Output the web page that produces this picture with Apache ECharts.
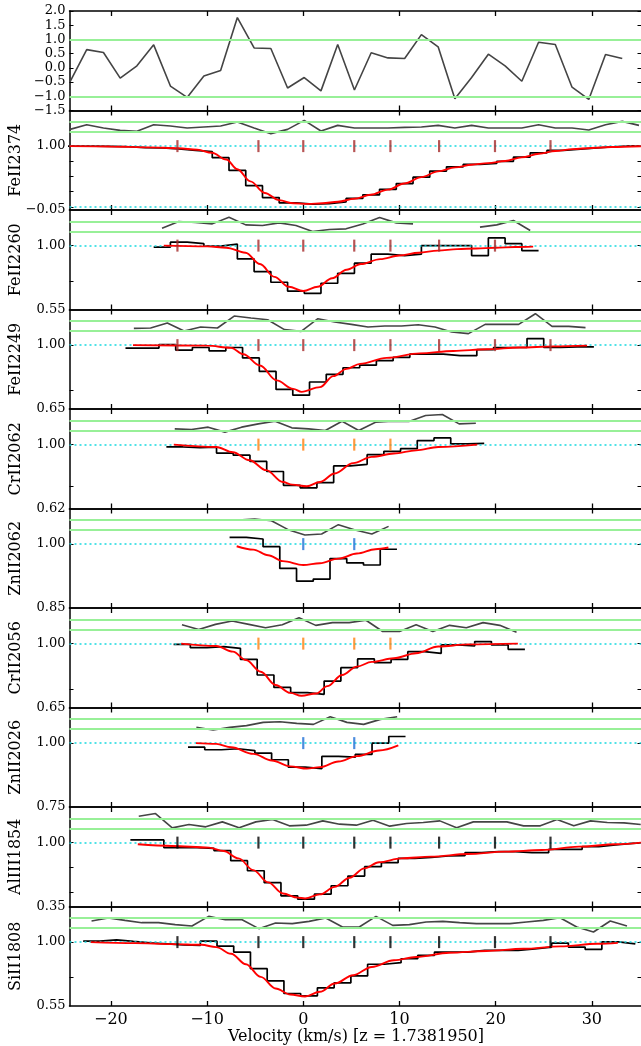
<!DOCTYPE html>
<html><head><meta charset="utf-8">
<script src="https://cdn.jsdelivr.net/npm/echarts@6/dist/echarts.min.js"></script>
<style>html,body{margin:0;padding:0;background:#fff;}#c{width:641px;height:1046px;}</style>
</head><body><div id="c"></div>
<script>
// ---------------- data ----------------
const lineNames = ['FeII2374','FeII2260','FeII2249','CrII2062','ZnII2062','CrII2056','ZnII2026','AlIII1854','SiII1808'];
const lineYmin = [-0.05,0.55,0.65,0.62,0.85,0.65,0.75,0.35,0.55];
const xTicks = [-20,-10,0,10,20,30];
const residTicks = [-1.5,-1.0,-0.5,0.0,0.5,1.0,1.5,2.0];
const fluxMinorTicks = [0,0.25,0.5,0.75,1.0];
const componentVel = [-13.08,-4.66,0,5.3,9.06,14.12,19.93,25.7];

// top panel residuals
const topVel = [-24.25,-22.51,-20.77,-19.03,-17.29,-15.55,-13.81,-12.07,-10.33,-8.59,-6.85,-5.11,-3.37,-1.63,0.10,1.84,3.58,5.32,7.06,8.80,10.54,12.28,14.02,15.76,17.50,19.24,20.98,22.72,24.46,26.20,27.94,29.68,31.42,33.16];
const topResid = [-0.49,0.64,0.54,-0.36,0.07,0.81,-0.64,-1.04,-0.29,-0.09,1.77,0.70,0.68,-0.71,-0.34,-0.81,0.82,-0.78,0.53,0.35,0.33,1.17,0.74,-1.09,-0.34,0.48,0.07,-0.47,0.90,0.82,-0.68,-1.11,0.47,0.33];

// FeII 2374
const fe2374Vel = [-24.25,-22.51,-20.77,-19.03,-17.29,-15.55,-13.81,-12.07,-10.33,-8.59,-6.85,-5.11,-3.37,-1.63,0.10,1.84,3.58,5.32,7.06,8.80,10.54,12.28,14.02,15.76,17.50,19.24,20.98,22.72,24.46,26.20,27.94,29.68,31.42,33.16,34.90];
const fe2374Flux = [1.00,1.00,0.995,0.99,0.975,0.97,0.955,0.93,0.91,0.81,0.60,0.35,0.155,0.066,0.045,0.056,0.082,0.14,0.20,0.29,0.385,0.49,0.59,0.66,0.70,0.715,0.75,0.82,0.89,0.93,0.95,0.97,0.99,1.005,1.00];
const fe2374Resid = [-0.47,0.47,-0.2,-0.67,-0.87,0.47,0.2,-0.2,0,0.2,1.0,-0.2,-1.33,-0.47,1.33,-0.8,0.33,-0.2,-0.2,-0.2,-0.07,0,0.33,-0.2,0.33,-0.2,-0.2,-0.2,0.47,-0.2,-0.2,-0.6,0.47,1.13,0.33];
const fe2374ModelVel = [-24.3,-20,-16,-13,-11,-9.5,-8,-6.85,-5.5,-4,-2.5,-1,0.5,2,3.6,5.3,7,8.8,10.5,12.3,14,15.8,17.5,19.2,21,22.7,24.5,26.2,28,30,32,35.1];
const fe2374Model = [1.0,0.995,0.98,0.965,0.94,0.89,0.78,0.62,0.42,0.23,0.11,0.06,0.05,0.06,0.085,0.135,0.2,0.285,0.385,0.49,0.585,0.65,0.695,0.72,0.755,0.815,0.875,0.92,0.95,0.97,0.985,0.998];

// FeII 2260
const fe2260Vel = [-14.68,-12.94,-11.20,-9.46,-7.72,-5.98,-4.24,-2.50,-0.76,0.97,2.71,4.45,6.19,7.93,9.67,11.41,13.15,14.89,16.63,18.37,20.11,21.85,23.59];
const fe2260Flux = [0.99,1.024,1.014,0.996,1.01,0.906,0.817,0.742,0.68,0.664,0.735,0.805,0.876,0.94,0.93,0.94,1.0,1.0,1.0,0.93,1.054,1.014,0.965];
const fe2260Resid = [-0.33,1.0,0.8,0.53,1.87,0.33,0.2,0.73,0.2,-1.0,-0.6,-0.47,0.5,1.8,0.73,0.53,null,null,null,-0.13,0.33,1.2,-0.8];
const fe2260ModelVel = [-14.5,-10,-8,-6,-4.5,-3,-1.5,0,1.5,3,4.5,6,8,10,12,14,16,18,20,22,23.9];
const fe2260Model = [1.0,0.995,0.985,0.95,0.87,0.78,0.71,0.68,0.71,0.77,0.83,0.87,0.905,0.93,0.95,0.965,0.975,0.98,0.985,0.99,0.993];

// FeII 2249
const fe2249Vel = [-17.61,-15.87,-14.13,-12.39,-10.66,-8.92,-7.18,-5.44,-3.70,-1.96,-0.22,1.52,3.26,5.00,6.73,8.47,10.21,11.95,13.69,15.43,17.17,18.91,20.65,22.39,24.13,25.86,27.60,29.34];
const fe2249Flux = [0.984,0.984,1.003,0.973,0.987,0.969,0.987,0.93,0.856,0.757,0.726,0.798,0.84,0.876,0.89,0.915,0.933,0.951,0.951,0.942,0.942,0.975,0.987,0.987,1.036,0.987,0.99,0.99];
const fe2249Resid = [-0.47,-0.4,0.6,-1.0,-0.2,-0.4,2.0,1.6,1.27,-0.73,-1.07,1.47,0.8,0.33,-0.2,0,0,0.27,-0.2,-1.2,-1.53,0.33,0.33,0.33,2.47,-0.07,-0.07,-0.33];
const fe2249ModelVel = [-17.7,-10,-7.5,-6.24,-4.5,-2.77,-1.04,-0.17,1.74,3.12,4.5,5.9,8.67,12.1,15.6,19.1,22.5,26,29.5];
const fe2249Model = [1.0,0.997,0.985,0.95,0.888,0.807,0.76,0.744,0.77,0.83,0.87,0.897,0.93,0.955,0.968,0.977,0.987,0.993,0.997];

// CrII 2062
const cr2062Vel = [-13.36,-11.62,-9.88,-8.15,-6.41,-4.67,-2.93,-1.19,0.55,2.29,4.03,5.77,7.51,9.25,10.98,12.72,14.46,16.20,17.94];
const cr2062Flux = [0.986,0.982,0.985,0.95,0.937,0.90,0.84,0.758,0.743,0.774,0.873,0.883,0.94,0.96,0.976,1.024,1.04,1.004,1.008];
const cr2062Resid = [-0.67,-0.8,-0.33,-1.33,-0.33,0.33,0.87,-0.47,-0.67,-1.0,0.87,-1.0,0.67,0.87,0.8,2.0,2.2,0.33,0.47];
const cr2062ModelVel = [-13.46,-9.04,-7.31,-5.58,-3.85,-2.12,-1.15,0.38,1.73,3.27,5.19,7.12,9.42,11.73,14.04,18.08];
const cr2062Model = [1.0,0.986,0.955,0.907,0.848,0.778,0.762,0.752,0.778,0.828,0.89,0.927,0.947,0.966,0.986,1.0];

// ZnII 2062
const zn2062Vel = [-6.79,-5.05,-3.31,-1.57,0.17,1.91,3.65,5.39,7.13,8.87];
const zn2062Flux = [1.016,1.012,0.994,0.943,0.913,0.918,0.966,0.956,0.951,0.988];
const zn2062Resid = [1.0,1.2,0.87,-0.93,-2.0,-1.8,0.07,-1.0,-1.8,-0.27];
const zn2062ModelVel = [-6.92,-5.19,-3.65,-2.12,0,1.73,3.65,5.58,7.5,8.85];
const zn2062Model = [0.995,0.987,0.974,0.96,0.951,0.955,0.966,0.978,0.988,0.992];

// CrII 2056
const cr2056Vel = [-12.61,-10.87,-9.13,-7.40,-5.66,-3.92,-2.18,-0.44,1.30,3.04,4.78,6.52,8.26,10.00,11.73,13.47,15.21,16.95,18.69,20.43,22.17];
const cr2056Flux = [0.996,0.978,0.984,0.974,0.914,0.828,0.76,0.731,0.722,0.795,0.868,0.916,0.896,0.914,0.956,0.947,0.993,0.987,1.011,0.993,0.969];
const cr2056Resid = [-0.03,-1.0,0.03,0.72,0.03,-0.66,-0.03,1.34,-0.17,0.38,0.38,0.86,-1.41,-1.41,-0.03,-1.41,-0.17,-0.66,0.38,-0.17,-1.55];
const cr2056ModelVel = [-12.69,-9.04,-7.31,-5.96,-4.42,-2.88,-1.35,-0.19,1.35,2.5,4.04,5.58,7.12,9.42,11.73,14.04,17.12,22.31];
const cr2056Model = [1.0,0.987,0.956,0.91,0.846,0.773,0.73,0.714,0.727,0.767,0.828,0.874,0.9,0.92,0.947,0.984,0.996,1.0];

// ZnII 2026
const zn2026Vel = [-11.11,-9.37,-7.64,-5.90,-4.16,-2.42,-0.68,1.06,2.80,4.54,6.28,8.02,9.76];
const zn2026Flux = [0.984,0.974,0.978,0.971,0.961,0.935,0.906,0.9,0.948,0.945,0.956,1.0,1.026];
const zn2026Resid = [-0.67,-1.2,-0.67,-0.33,0.33,0.47,0.13,-0.07,1.47,0.33,-0.07,0.93,1.47];
const zn2026ModelVel = [-11.15,-9.04,-7.5,-5.19,-3.27,-1.35,0.38,1.73,3.65,5.58,7.88,9.88];
const zn2026Model = [1.0,0.997,0.984,0.958,0.932,0.909,0.9,0.906,0.928,0.949,0.971,0.991];

// AlIII 1854
const al1854Vel = [-17.10,-15.36,-13.62,-11.88,-10.14,-8.41,-6.67,-4.93,-3.19,-1.45,0.29,2.03,3.77,5.51,7.25,8.99,10.73,12.47,14.20,15.94,17.68,19.42,21.16,22.90,24.64,26.38,28.12,29.86,31.60,33.34,35.08];
const al1854Flux = [1.027,1.027,0.949,0.949,0.942,0.918,0.816,0.714,0.592,0.459,0.425,0.476,0.561,0.66,0.755,0.796,0.84,0.85,0.864,0.867,0.898,0.908,0.908,0.898,0.898,0.932,0.932,0.959,0.976,0.993,1.0];
const al1854Resid = [1.47,2.0,-0.87,-0.2,-0.67,0.33,-0.87,0.33,0.8,-0.47,-0.33,0.53,-0.13,-0.33,0.67,-0.53,0,0.2,0.53,-0.87,0.33,0.33,0.33,-0.47,-0.47,0.8,-0.47,0.53,0.2,0.13,-0.2];
const al1854ModelVel = [-17.2,-13.65,-9.8,-8.27,-6.73,-5.19,-3.65,-2.12,-0.58,0.19,1.73,3.27,4.81,6.35,7.88,10.19,13.27,17.12,20.96,24.81,28.65,32.5,35.1];
const al1854Model = [0.983,0.966,0.949,0.915,0.84,0.72,0.595,0.483,0.44,0.432,0.473,0.55,0.643,0.738,0.8,0.84,0.857,0.884,0.908,0.925,0.959,0.983,1.0];

// SiII 1808
const si1808Vel = [-22.01,-20.27,-18.53,-16.79,-15.05,-13.31,-11.57,-9.83,-8.10,-6.36,-4.62,-2.88,-1.14,0.60,2.34,4.08,5.82,7.56,9.30,11.03,12.77,14.51,16.25,17.99,19.73,21.47,23.21,24.95,26.69,28.43,30.17,31.91,33.65];
const si1808Flux = [1.007,1.016,1.005,0.995,0.988,0.981,0.977,1.007,0.972,0.93,0.813,0.727,0.638,0.622,0.678,0.713,0.762,0.844,0.855,0.883,0.907,0.93,0.93,0.942,0.942,0.942,0.953,0.965,0.993,0.965,0.949,1.002,0.988];
const si1808Resid = [0.4,1.0,0.53,0.07,0.07,-0.33,-0.6,1.33,0.67,0.67,-1.13,0,-0.13,0.33,1.0,-0.8,-0.8,1.33,-0.47,-0.33,0.2,0.33,0.07,-0.13,-0.13,-0.13,0.2,0.53,1.07,-0.8,-1.8,0.4,-0.6];
const si1808ModelVel = [-22.1,-17.5,-13.65,-10.58,-9.04,-7.5,-5.96,-4.42,-2.88,-1.35,0.19,1.73,3.27,5.19,7.12,9.42,11.73,15.19,19.04,22.88,26.73,30.58,32.7];
const si1808Model = [1.0,0.993,0.986,0.981,0.965,0.918,0.844,0.755,0.673,0.631,0.617,0.65,0.708,0.767,0.825,0.872,0.895,0.925,0.937,0.953,0.97,0.988,0.995];

// components drawn per line (indices into componentVel)
const lineCompIdx = [[0,1,2,3,4,5,6,7],[0,1,2,3,4,5,6],[0,1,2,3,4,5,6,7],[1,2,3,4],[2,3],[1,2,3,4],[2,3],[0,1,2,3,4,5,6,7],[0,1,2,3,4,5,6,7]];

// ---------------- layout / style ----------------
const lineVel = [fe2374Vel,fe2260Vel,fe2249Vel,cr2062Vel,zn2062Vel,cr2056Vel,zn2026Vel,al1854Vel,si1808Vel];
const lineFlux = [fe2374Flux,fe2260Flux,fe2249Flux,cr2062Flux,zn2062Flux,cr2056Flux,zn2026Flux,al1854Flux,si1808Flux];
const lineResid = [fe2374Resid,fe2260Resid,fe2249Resid,cr2062Resid,zn2062Resid,cr2056Resid,zn2026Resid,al1854Resid,si1808Resid];
const lineModelVel = [fe2374ModelVel,fe2260ModelVel,fe2249ModelVel,cr2062ModelVel,zn2062ModelVel,cr2056ModelVel,zn2026ModelVel,al1854ModelVel,si1808ModelVel];
const lineModel = [fe2374Model,fe2260Model,fe2249Model,cr2062Model,zn2062Model,cr2056Model,zn2026Model,al1854Model,si1808Model];
const compColor = {Fe:'#a52a2a', Cr:'#ff7f0e', Zn:'#1f6fd6', Al:'#000000', Si:'#000000'};

const XMIN = -24.3, XMAX = 35.16;
const LEFT = 69.5, PW = 572, TOP0 = 11, PH = 99.5;
const RMIN = -16.68, RMAX = 3.32;
const CONT_FRAC = 0.642;
const FONT = 'DejaVu Serif';
const SPINE = {color:'#000', width:1.5};

function signed(v, d){ return (v < 0 ? '\u2212' : '') + Math.abs(v).toFixed(d); }
function zip(a, b){ const n = Math.min(a.length, b.length); const o = []; for (let i=0;i<n;i++) o.push([a[i], b[i]]); return o; }
function steps(vel, flux){
  const n = vel.length, o = [];
  for (let i=0;i<n;i++){
    const left = i===0 ? vel[0]-(vel[1]-vel[0])/2 : (vel[i-1]+vel[i])/2;
    o.push([left, flux[i]]);
  }
  o.push([vel[n-1]+(vel[n-1]-vel[n-2])/2, flux[n-1]]);
  return o;
}

const grid=[], xAxis=[], yAxis=[], series=[], graphic=[];
const NP = 10;
for (let p=0;p<NP;p++){
  const top = TOP0 + p*PH;
  grid.push({left:LEFT, top:top, width:PW, height:PH, containLabel:false, outerBoundsMode:'none'});
  const isLast = p===NP-1;
  const xb = xAxis.length;
  xAxis.push({type:'value', gridIndex:p, position:'bottom', min:XMIN, max:XMAX,
    axisLine:{show:true, onZero:false, lineStyle:SPINE},
    axisTick:{show:true, inside:true, length:5, customValues:xTicks, lineStyle:{color:'#000', width:1.3}},
    axisLabel:{show:isLast, customValues:xTicks, margin:6, fontFamily:FONT, fontSize:16, color:'#000', formatter:v=>signed(v,0)},
    splitLine:{show:false}});
  xAxis.push({type:'value', gridIndex:p, position:'top', min:XMIN, max:XMAX,
    axisLine:{show:true, onZero:false, lineStyle:SPINE},
    axisTick:{show:true, inside:true, length:5, customValues:xTicks, lineStyle:{color:'#000', width:1.3}},
    axisLabel:{show:false}, splitLine:{show:false}});

  if (p===0){
    const yl = yAxis.length;
    yAxis.push({type:'value', gridIndex:p, position:'left', min:-1.5, max:2.0,
      axisLine:{show:true, onZero:false, lineStyle:SPINE},
      axisTick:{show:true, inside:true, length:4, customValues:residTicks, lineStyle:{color:'#000'}},
      axisLabel:{customValues:residTicks, margin:4, fontFamily:FONT, fontSize:13, color:'#000', formatter:v=>signed(v,1)},
      splitLine:{show:false}});
    yAxis.push({type:'value', gridIndex:p, position:'right', min:-1.5, max:2.0,
      axisLine:{show:true, onZero:false, lineStyle:SPINE},
      axisTick:{show:true, inside:true, length:4, customValues:residTicks, lineStyle:{color:'#000'}},
      axisLabel:{show:false}, splitLine:{show:false}});
    series.push({type:'line', xAxisIndex:xb, yAxisIndex:yl, data:zip(topVel, topResid), showSymbol:false, z:4,
      lineStyle:{color:'#444', width:1.6}, silent:true,
      markLine:{silent:true, symbol:['none','none'], label:{show:false}, animation:false,
        lineStyle:{color:'#98f098', width:2, type:'solid'}, data:[{yAxis:1},{yAxis:-1}]}});
    continue;
  }
  const j = p-1;
  const ymin = lineYmin[j];
  const ymax = ymin + (1-ymin)/CONT_FRAC;
  const ticks = fluxMinorTicks.filter(t=>t>ymin);
  const yl = yAxis.length;
  yAxis.push({type:'value', gridIndex:p, position:'left', min:ymin, max:ymax,
    axisLine:{show:true, onZero:false, lineStyle:SPINE},
    axisTick:{show:true, inside:true, length:4, customValues:ticks, lineStyle:{color:'#000'}},
    axisLabel:{customValues:[ymin, 1.0], margin:4, fontFamily:FONT, fontSize:13, color:'#000', formatter:v=>signed(v,2)},
    splitLine:{show:false}});
  yAxis.push({type:'value', gridIndex:p, position:'right', min:ymin, max:ymax,
    axisLine:{show:true, onZero:false, lineStyle:SPINE},
    axisTick:{show:true, inside:true, length:4, customValues:ticks, lineStyle:{color:'#000'}},
    axisLabel:{show:false}, splitLine:{show:false}});
  const yr = yAxis.length;
  yAxis.push({type:'value', gridIndex:p, position:'right', min:RMIN, max:RMAX, show:false, splitLine:{show:false}});

  // residuals (grey) + green +-1 lines
  series.push({type:'line', xAxisIndex:xb, yAxisIndex:yr, data:zip(lineVel[j], lineResid[j]), showSymbol:false, connectNulls:false, z:3,
    lineStyle:{color:'#444', width:1.6}, silent:true,
    markLine:{silent:true, symbol:['none','none'], label:{show:false}, animation:false,
      lineStyle:{color:'#98f098', width:2, type:'solid'}, data:[{yAxis:1},{yAxis:-1}]}});
  // continuum guides
  const guides = [{yAxis:1}];
  if (ymin < 0) guides.push({yAxis:0});
  // data histogram
  series.push({type:'line', xAxisIndex:xb, yAxisIndex:yl, data:steps(lineVel[j], lineFlux[j]), step:'end', showSymbol:false, z:4,
    lineStyle:{color:'#000', width:1.7}, silent:true,
    markLine:{silent:true, symbol:['none','none'], label:{show:false}, animation:false,
      lineStyle:{color:'#19d9e0', width:1.6, type:[2,3]}, data:guides}});
  // model
  series.push({type:'line', xAxisIndex:xb, yAxisIndex:yl, data:zip(lineModelVel[j], lineModel[j]), showSymbol:false, smooth:0.35, smoothMonotone:'x', z:5,
    lineStyle:{color:'#ff0000', width:1.9}, silent:true});
  // component ticks
  const sp = lineNames[j].slice(0,2);
  series.push({type:'scatter', xAxisIndex:xb, yAxisIndex:yl, data:lineCompIdx[j].map(k=>[componentVel[k], 1.0]),
    symbol:'rect', symbolSize:[2.2,12], z:6, silent:true, itemStyle:{color:compColor[sp]}});

  graphic.push({type:'text', x:16, y:top+PH/2, rotation:Math.PI/2,
    style:{text:lineNames[j], font:'16px "DejaVu Serif"', fill:'#000', textAlign:'center', textVerticalAlign:'middle'}});
}
graphic.push({type:'text', x:356, y:1037,
  style:{text:'Velocity (km/s) [z = 1.7381950]', font:'16px "DejaVu Serif"', fill:'#000', textAlign:'center', textVerticalAlign:'middle'}});

const chart = echarts.init(document.getElementById('c'), null, {renderer:'canvas'});
chart.setOption({animation:false, backgroundColor:'#fff', grid, xAxis, yAxis, series, graphic});
</script>
</body></html>
